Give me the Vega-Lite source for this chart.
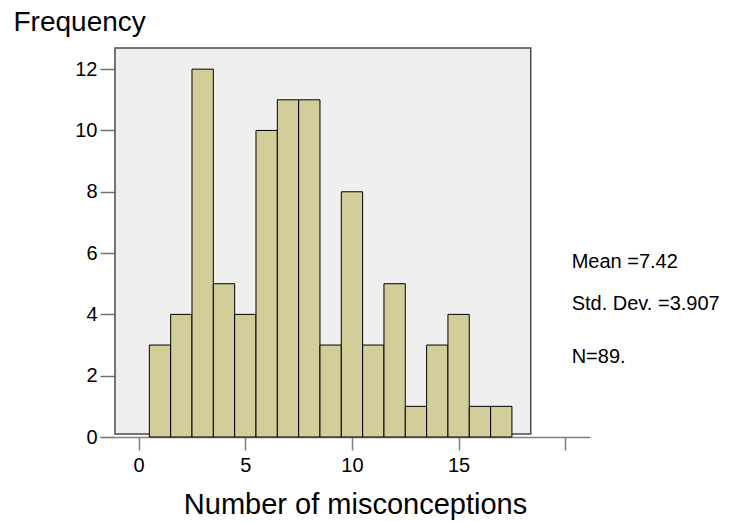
{
  "$schema": "https://vega.github.io/schema/vega-lite/v6.json",
  "width": 475,
  "height": 389,
  "autosize": {"type": "none"},
  "padding": {"left": 115, "top": 48, "right": 141, "bottom": 85},
  "background": "white",
  "config": {
    "font": "Liberation Sans",
    "view": {"stroke": null},
    "axis": {"grid": false, "labelColor": "black", "titleColor": "black", "titleFontWeight": "normal"}
  },
  "datasets": {
    "bins": [
      {"bin_start": 0.5, "bin_end": 1.5, "count": 3},
      {"bin_start": 1.5, "bin_end": 2.5, "count": 4},
      {"bin_start": 2.5, "bin_end": 3.5, "count": 12},
      {"bin_start": 3.5, "bin_end": 4.5, "count": 5},
      {"bin_start": 4.5, "bin_end": 5.5, "count": 4},
      {"bin_start": 5.5, "bin_end": 6.5, "count": 10},
      {"bin_start": 6.5, "bin_end": 7.5, "count": 11},
      {"bin_start": 7.5, "bin_end": 8.5, "count": 11},
      {"bin_start": 8.5, "bin_end": 9.5, "count": 3},
      {"bin_start": 9.5, "bin_end": 10.5, "count": 8},
      {"bin_start": 10.5, "bin_end": 11.5, "count": 3},
      {"bin_start": 11.5, "bin_end": 12.5, "count": 5},
      {"bin_start": 12.5, "bin_end": 13.5, "count": 1},
      {"bin_start": 13.5, "bin_end": 14.5, "count": 3},
      {"bin_start": 14.5, "bin_end": 15.5, "count": 4},
      {"bin_start": 15.5, "bin_end": 16.5, "count": 1},
      {"bin_start": 16.5, "bin_end": 17.5, "count": 1}
    ],
    "single": [{}]
  },
  "layer": [
    {
      "data": {"name": "single"},
      "mark": {"type": "rect", "fill": "#efefef", "stroke": "#4a4a4a", "strokeWidth": 1.5},
      "encoding": {
        "x": {
          "datum": -1.11,
          "type": "quantitative",
          "scale": {"domain": [-1.11, 21.16], "nice": false, "zero": false},
          "axis": {
            "values": [0, 5, 10, 15, 20],
            "labelExpr": "datum.value == 20 ? '' : datum.label",
            "labelFontSize": 20,
            "labelPadding": 5,
            "tickSize": 13,
            "tickWidth": 1.5,
            "tickColor": "#808080",
            "domainColor": "#808080",
            "domainWidth": 1.5,
            "title": "Number of misconceptions",
            "titleFontSize": 29,
            "titleBaseline": "alphabetic",
            "titleY": 76,
            "titleX": 240
          }
        },
        "x2": {"datum": 18.38},
        "y": {
          "datum": 0.1,
          "type": "quantitative",
          "scale": {"domain": [0, 12.69], "nice": false},
          "axis": {
            "values": [0, 2, 4, 6, 8, 10, 12],
            "domain": false,
            "labelFontSize": 20,
            "labelPadding": 3,
            "tickSize": 15,
            "tickWidth": 1.5,
            "tickColor": "#707070",
            "title": "Frequency",
            "titleFontSize": 28,
            "titleAngle": 0,
            "titleAlign": "left",
            "titleBaseline": "alphabetic",
            "titleX": -102,
            "titleY": -18
          }
        },
        "y2": {"datum": 12.69}
      }
    },
    {
      "data": {"name": "bins"},
      "mark": {"type": "rect", "fill": "#d3ce99", "stroke": "black", "strokeWidth": 1},
      "encoding": {
        "x": {"field": "bin_start", "type": "quantitative"},
        "x2": {"field": "bin_end"},
        "y": {"field": "count", "type": "quantitative"},
        "y2": {"datum": 0}
      }
    },
    {
      "data": {"name": "single"},
      "mark": {"type": "text", "text": "Mean =7.42", "align": "left", "baseline": "alphabetic", "fontSize": 20, "color": "black"},
      "encoding": {"x": {"datum": 20.3}, "y": {"datum": 5.5}}
    },
    {
      "data": {"name": "single"},
      "mark": {"type": "text", "text": "Std. Dev. =3.907", "align": "left", "baseline": "alphabetic", "fontSize": 20, "color": "black"},
      "encoding": {"x": {"datum": 20.3}, "y": {"datum": 4.135}}
    },
    {
      "data": {"name": "single"},
      "mark": {"type": "text", "text": "N=89.", "align": "left", "baseline": "alphabetic", "fontSize": 20, "color": "black"},
      "encoding": {"x": {"datum": 20.3}, "y": {"datum": 2.4}}
    }
  ]
}
